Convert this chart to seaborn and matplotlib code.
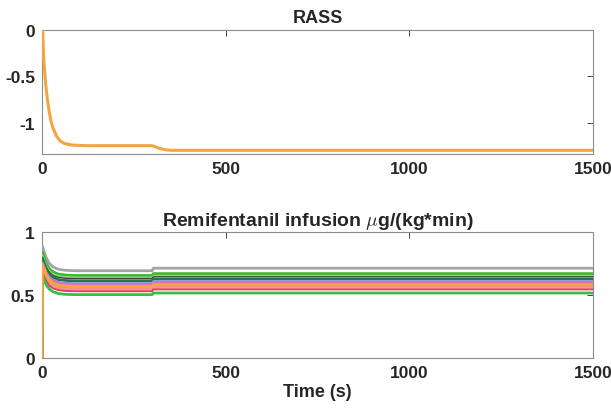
"""
RASS and remifentanil infusion over time
"""

import numpy as np
import matplotlib
matplotlib.use('Agg')
import matplotlib.pyplot as plt
import seaborn as sns

# RASS response
rass_time = [0, 2, 5, 10, 15, 20, 25, 30, 40, 50, 60, 80, 120, 300,
             310, 320, 335, 350, 1500]
rass_vals = [0, -0.02, -0.33, -0.58, -0.76, -0.89, -0.99, -1.06, -1.15,
             -1.20, -1.225, -1.243, -1.25, -1.25, -1.265, -1.28, -1.293,
             -1.30, -1.30]

# Remifentanil infusion, one curve per patient
inf_time = [0, 1, 6, 12, 20, 30, 45, 65, 90, 300, 303, 1500]
inf_gray = [0, .890, .845, .793, .752, .724, .704, .696, .693, .693, .713, .713]
inf_green = [0, .840, .797, .749, .711, .684, .666, .658, .655, .655, .670, .670]
inf_lightgreen = [0, .820, .779, .732, .694, .668, .650, .643, .640, .640, .655, .655]
inf_darkgray = [0, .800, .761, .717, .681, .656, .640, .633, .630, .630, .645, .645]
inf_darkgreen = [0, .790, .749, .703, .665, .640, .622, .615, .612, .612, .627, .627]
inf_slate = [0, .760, .722, .678, .643, .619, .603, .596, .593, .593, .608, .608]
inf_pink = [0, .750, .712, .668, .633, .609, .593, .586, .583, .583, .598, .598]
inf_hotpink = [0, .720, .682, .640, .605, .581, .565, .558, .556, .556, .571, .571]
inf_salmon = [0, .700, .664, .624, .592, .569, .554, .547, .545, .545, .560, .560]
inf_red = [0, .680, .646, .607, .575, .553, .539, .532, .530, .530, .545, .545]
inf_green2 = [0, .650, .616, .578, .547, .526, .511, .505, .503, .503, .516, .516]
inf_orange = [0, .740, .700, .655, .619, .594, .577, .570, .567, .567, .582, .582]

curves = [
    (inf_gray, '#a5a5a5', 2.0),
    (inf_green, '#3cb831', 2.0),
    (inf_lightgreen, '#8fd67f', 1.0),
    (inf_darkgray, '#404040', 1.0),
    (inf_darkgreen, '#1f7a46', 2.0),
    (inf_slate, '#8a8fd8', 1.6),
    (inf_pink, '#de6fc6', 2.0),
    (inf_hotpink, '#f06ba8', 1.6),
    (inf_salmon, '#f29a86', 1.6),
    (inf_red, '#e83a5f', 1.4),
    (inf_green2, '#2fc244', 2.0),
    (inf_orange, '#f2a541', 2.2),
]

x_ticks = [0, 500, 1000, 1500]

sns.set_style('white')
plt.rcParams['font.family'] = ['Liberation Sans', 'DejaVu Sans']
plt.rcParams['font.weight'] = 'bold'
plt.rcParams['axes.unicode_minus'] = False
plt.rcParams['mathtext.fontset'] = 'cm'

fig = plt.figure(figsize=(6.11, 4.14), dpi=100)
ax1 = fig.add_axes([0.0687, 0.6256, 0.9018, 0.2994])
ax2 = fig.add_axes([0.0687, 0.1330, 0.9018, 0.3040])

sns.lineplot(x=rass_time, y=rass_vals, color='#f2a541', linewidth=2.2,
             ax=ax1, zorder=3)
for vals, col, lw in curves:
    sns.lineplot(x=inf_time, y=vals, color=col, linewidth=lw, ax=ax2, zorder=3)

ax1.set_ylim(-1.34, 0)
ax1.set_yticks([0, -0.5, -1])
ax1.set_yticklabels(['0', '-0.5', '-1'])
ax2.set_ylim(0, 1)
ax2.set_yticks([0, 0.5, 1])
ax2.set_yticklabels(['0', '0.5', '1'])

for ax in (ax1, ax2):
    ax.set_xlim(0, 1500)
    ax.set_xticks(x_ticks)
    ax.set_xticklabels([str(t) for t in x_ticks])
    ax.tick_params(direction='in', length=4, width=0.6, colors='#262626',
                   labelsize=12.5, top=True, right=True, pad=5)
    for lab in ax.get_xticklabels() + ax.get_yticklabels():
        lab.set_fontweight('bold')
    for sp in ax.spines.values():
        sp.set_visible(True)
        sp.set_color('#8c8c8c')
        sp.set_linewidth(0.8)

ax1.set_title('RASS', fontsize=13, fontweight='bold', pad=6)
ax2.set_title(r'Remifentanil infusion $\mu$g/(kg*min)', fontsize=14,
              fontweight='bold', pad=5)
ax2.set_xlabel('Time (s)', fontsize=13, fontweight='bold', labelpad=2)

fig.savefig('out.png', dpi=100)
plt.close()
